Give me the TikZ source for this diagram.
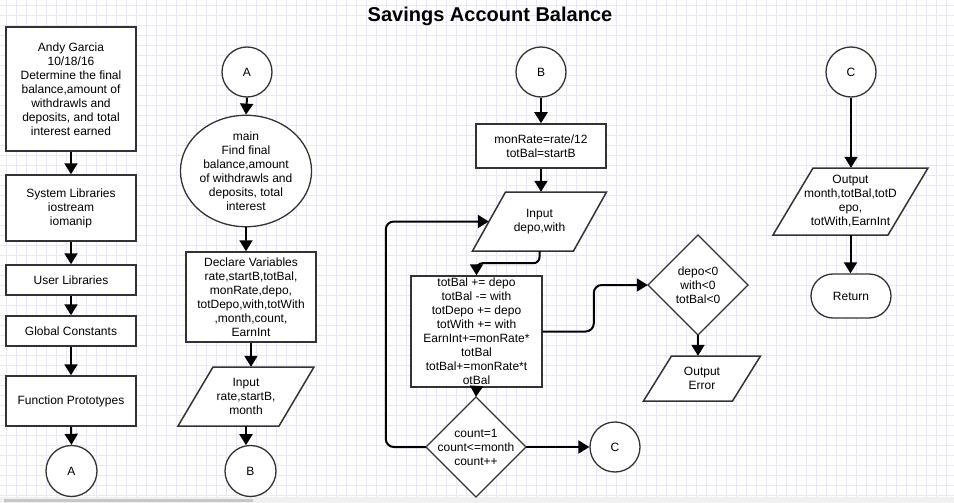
\documentclass[tikz,border=0pt]{standalone}
\usepackage{fontspec}
\setmainfont{Liberation Sans}
\usetikzlibrary{arrows.meta,shapes.geometric}
\definecolor{gridc}{RGB}{232,232,250}
\definecolor{edge}{RGB}{51,51,51}
\newcommand\mypara[7]{%
  \draw[draw=edge, line width=1.5pt, fill=white]
    ({#2-#4/2+#6/2},{#3-#5/2}) -- ({#2+#4/2+#6/2},{#3-#5/2}) --
    ({#2+#4/2-#6/2},{#3+#5/2}) -- ({#2-#4/2-#6/2},{#3+#5/2}) -- cycle;
  \node[txt, minimum width=#4pt, minimum height=#5pt, inner sep=0pt] (#1) at (#2,#3) {#7};}
\newcommand\mydiam[5]{%
  \draw[draw=edge, line width=1.4pt, fill=white]
    (#2,{#3-#4}) -- ({#2+#4},#3) -- (#2,{#3+#4}) -- ({#2-#4},#3) -- cycle;
  \node[txt, minimum width={2*#4pt}, minimum height={2*#4pt}, inner sep=0pt] (#1) at (#2,#3) {#5};}
\begin{document}
\begin{tikzpicture}[x=1pt,y=-1pt,
  txt/.style={font=\fontsize{12}{14}\selectfont, align=center, text=black},
  procbox/.style={txt, draw=edge, line width=1.5pt, fill=white, inner sep=0pt},
  conn/.style={txt, circle, draw=edge, line width=1.3pt, fill=white, minimum size=50pt, inner sep=0pt},
  arr/.style={line width=2pt, black, -{Triangle[length=11pt,width=13pt]}},
]
\useasboundingbox (0,0) rectangle (954,503);
\fill[white] (0,0) rectangle (954,503);
\foreach \x in {6,16,...,946} \draw[gridc, line width=0.8pt] (\x,0) -- (\x,503);
\foreach \y in {5,15,...,495} \draw[gridc, line width=0.8pt] (0,\y) -- (954,\y);
\fill[black!6] (0,497) rectangle (954,503);
\fill[black!22] (4,498.5) rectangle (253,502);

\node[font=\fontsize{20}{22}\selectfont\bfseries] (title) at (490,16) {Savings Account Balance};

% left column
\node[procbox, minimum width=130pt, minimum height=124pt] (b1) at (71,89)
  {Andy Garcia\\10/18/16\\Determine the final\\balance,amount of\\withdrawls and\\deposits, and total\\interest earned};
\node[procbox, minimum width=130pt, minimum height=66pt] (b2) at (71,208) {System Libraries\\iostream\\iomanip};
\node[procbox, minimum width=130pt, minimum height=30pt] (b3) at (71,280) {User Libraries};
\node[procbox, minimum width=130pt, minimum height=30pt] (b4) at (71,331) {Global Constants};
\node[procbox, minimum width=130pt, minimum height=50pt] (b5) at (71,401) {Function Prototypes};
\node[conn, minimum size=51pt] (cA1) at (71.5,471) {A};
\draw[arr] (b1.south) -- (b2.north);
\draw[arr] (b2.south) -- (b3.north);
\draw[arr] (b3.south) -- (b4.north);
\draw[arr] (b4.south) -- (b5.north);
\draw[arr] (b5.south) -- (cA1.north);

% column 2
\node[conn] (cA2) at (247,72) {A};
\node[txt, ellipse, draw=edge, line width=1.3pt, fill=white, minimum width=122pt, minimum height=88pt, inner sep=0pt] (main) at (246,171)
  {main\\Find final\\balance,amount\\of withdrawls and\\deposits, total\\interest};
\node[procbox, minimum width=130pt, minimum height=90pt] (decl) at (251,297)
  {Declare Variables\\rate,startB,totBal,\\monRate,depo,\\totDepo,with,totWith\\,month,count,\\EarnInt};
\mypara{in1}{246}{396.5}{101}{59}{35}{Input\\rate,startB,\\month}
\node[conn, minimum size=51pt] (cB1) at (250.5,471) {B};
\draw[arr] (cA2.south) -- (main.north);
\draw[arr] (main.south) -- (main.south |- decl.north);
\draw[arr] (decl.south) -- (decl.south |- in1.north);
\draw[arr] (in1.south) -- ++(0,19);

% column 3
\node[conn] (cB2) at (541,72) {B};
\node[procbox, minimum width=130pt, minimum height=44pt] (mon) at (541,146) {monRate=rate/12\\totBal=startB};
\mypara{in2}{539.5}{221.5}{101}{59}{33}{Input\\depo,with}
\node[procbox, minimum width=131pt, minimum height=111pt] (loop) at (476.5,331.5)
  {totBal += depo\\totBal -= with\\totDepo += depo\\totWith += with\\EarnInt+=monRate*\\totBal\\totBal+=monRate*t\\otBal};
\mydiam{cnt}{476}{447}{50}{count=1\\count<=month\\count++}
\node[conn] (cC2) at (615,447) {C};
\draw[arr] (cB2.south) -- (mon.north);
\draw[arr] (mon.south) -- (mon.south |- in2.north);
\draw[arr, rounded corners=6pt] (in2.south) -- ++(0,12) -| (loop.north);
\draw[arr] (loop.south) -- (cnt.north);
\draw[arr] (cnt.east) -- (cC2.west);
\draw[arr, rounded corners=8pt] (cnt.west) -- ++(-40,0) |- (in2.west);

% column 4
\mydiam{dep}{698}{285}{50}{depo<0\\with<0\\totBal<0}
\mypara{err}{702}{378.5}{89}{45}{28}{Output\\Error}
\draw[arr, rounded corners=8pt] (loop.east) -- ++(51,0) |- (dep.west);
\draw[arr] (dep.south) -- (dep.south |- err.north);

% column 5
\node[conn] (cC3) at (851,72) {C};
\mypara{out}{850.5}{201.5}{115}{67}{40}{Output\\month,totBal,totD\\epo,\\totWith,EarnInt}
\node[procbox, line width=1.3pt, minimum width=80pt, minimum height=44pt, rounded corners=22pt] (ret) at (851,296) {Return};
\draw[arr] (cC3.south) -- (cC3.south |- out.north);
\draw[arr] (out.south) -- (out.south |- ret.north);
\end{tikzpicture}
\end{document}
